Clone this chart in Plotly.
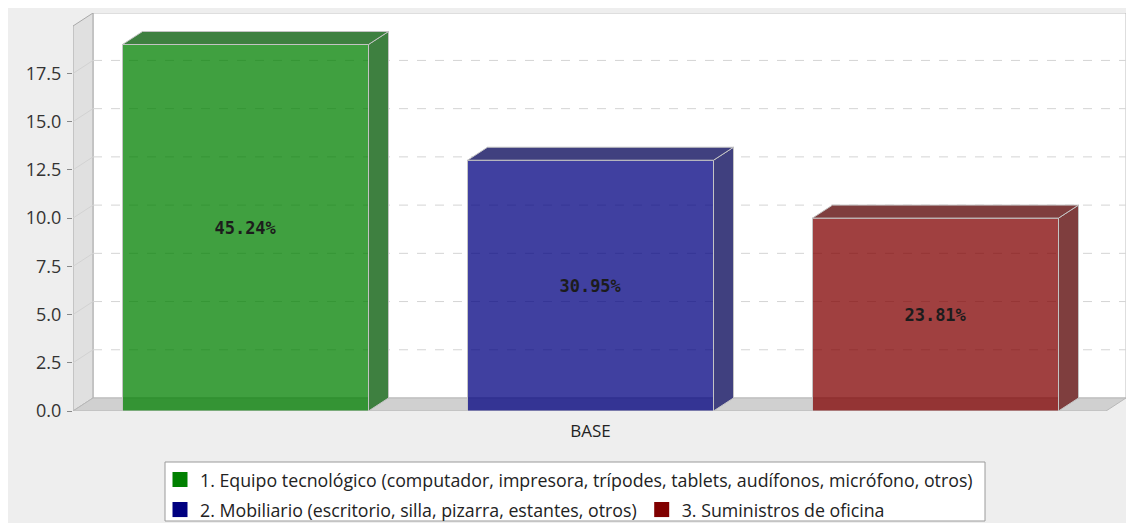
import plotly.graph_objects as go

# ---- data ----
categories = [
    "1. Equipo tecnológico (computador, impresora, trípodes, tablets, audífonos, micrófono, otros)",
    "2. Mobiliario (escritorio, silla, pizarra, estantes, otros)",
    "3. Suministros de oficina",
]
values = [19, 13, 10]
percent_labels = ["45.24%", "30.95%", "23.81%"]
x_tick_labels = ["BASE"]
y_tick_values = [0, 2.5, 5, 7.5, 10, 12.5, 15, 17.5]
y_tick_labels = ["0.0", "2.5", "5.0", "7.5", "10.0", "12.5", "15.0", "17.5"]

# ---- style ----
legend_colors = ["#008000", "#000080", "#800000"]
front_colors = ["rgba(0,128,0,0.75)", "rgba(0,0,128,0.75)", "rgba(128,0,0,0.75)"]
side_colors = ["#3e8040", "#40407f", "#7f3e3e"]
outline = "#c4c4c4"

W, H = 1118, 515
ML, MR, MT, MB = 65, 0, 5, 112
plot_w = W - ML - MR
plot_h = H - MT - MB
PX_X = 345.0          # pixels per x unit
PX_Y = 19.29          # pixels per y unit
DX = 20 / PX_X        # 3D depth offset (x units)
DY = 13 / PX_Y        # 3D depth offset (y units)
x0 = -0.5
x1 = x0 + plot_w / PX_X
y1 = plot_h / PX_Y
front_right = x1 - DX
front_top = y1 - DY
bar_w = 246 / PX_X
positions = list(range(len(values)))


def px_to_paper_x(px):
    return (px - 73) / plot_w


def px_to_paper_y(py):
    return (411 - py) / plot_h


fig = go.Figure()

shapes = []
# back wall
shapes.append(dict(type="rect", xref="x", yref="y", x0=x0 + DX, x1=x1, y0=DY, y1=y1,
                   fillcolor="white", line=dict(color="#bdbdbd", width=1), layer="below"))
# left wall
shapes.append(dict(type="path", xref="x", yref="y",
                   path=f"M{x0},0 L{x0},{front_top} L{x0+DX},{y1} L{x0+DX},{DY} Z",
                   fillcolor="#e0e0e0", line=dict(color="#a8a8a8", width=1), layer="below"))
# floor
shapes.append(dict(type="path", xref="x", yref="y",
                   path=f"M{x0},0 L{x0+DX},{DY} L{x1},{DY} L{front_right},0 Z",
                   fillcolor="#d0d0d0", line=dict(color="#b8b8b8", width=1), layer="below"))
# gridlines on the back wall and faint diagonals on the left wall
for t in y_tick_values[1:]:
    shapes.append(dict(type="line", xref="x", yref="y", x0=x0 + DX, x1=x1, y0=t + DY, y1=t + DY,
                       line=dict(color="#d4d4d4", width=1, dash="dash"), layer="below"))
    shapes.append(dict(type="line", xref="x", yref="y", x0=x0, x1=x0 + DX, y0=t, y1=t + DY,
                       line=dict(color="#d2d2d2", width=1), layer="below"))
# legend box
shapes.append(dict(type="rect", xref="paper", yref="paper",
                   x0=px_to_paper_x(165), x1=px_to_paper_x(985),
                   y0=px_to_paper_y(521), y1=px_to_paper_y(462),
                   fillcolor="white", line=dict(color="#9a9a9a", width=1), layer="below"))

# 3D side and top faces
for i, v in enumerate(values):
    xl = positions[i] - bar_w / 2
    xr = positions[i] + bar_w / 2
    fig.add_trace(go.Scatter(
        x=[xr, xr + DX, xr + DX, xr, xr], y=[0, DY, v + DY, v, 0],
        fill="toself", fillcolor=side_colors[i], mode="lines",
        line=dict(color=outline, width=1), showlegend=False, hoverinfo="skip"))
    fig.add_trace(go.Scatter(
        x=[xl, xl + DX, xr + DX, xr, xl], y=[v, v + DY, v + DY, v, v],
        fill="toself", fillcolor=side_colors[i], mode="lines",
        line=dict(color=outline, width=1), showlegend=False, hoverinfo="skip"))

# front faces
for i, v in enumerate(values):
    fig.add_trace(go.Bar(
        x=[positions[i]], y=[v], width=bar_w,
        marker=dict(color=front_colors[i], line=dict(color=outline, width=1)),
        text=[percent_labels[i]], textposition="inside", insidetextanchor="middle",
        textangle=0, constraintext="none",
        textfont=dict(family="DejaVu Sans Mono", size=17, color="#1c1c1c", weight="bold"),
        showlegend=False, hoverinfo="skip"))

# legend entries (row 1 -> legend, row 2 -> legend2)
for i, name in enumerate(categories):
    fig.add_trace(go.Scatter(
        x=[None], y=[None], name=name, mode="markers",
        marker=dict(symbol="square", size=15, color=legend_colors[i]),
        legend="legend" if i == 0 else "legend2"))

legend_common = dict(orientation="h", xanchor="left", yanchor="middle",
                     bgcolor="rgba(0,0,0,0)", borderwidth=0,
                     font=dict(family="Open Sans", size=17.8, color="#222222"))

fig.update_layout(
    width=W, height=H, margin=dict(l=ML, r=MR, t=MT, b=MB, autoexpand=False),
    paper_bgcolor="#eeeeee", plot_bgcolor="#eeeeee",
    barmode="overlay", shapes=shapes,
    font=dict(family="Open Sans", size=17, color="#333333"),
    xaxis=dict(range=[x0, x1], showgrid=False, zeroline=False, showline=False,
               tickvals=[(positions[0] + positions[-1]) / 2], ticktext=x_tick_labels,
               ticks="", ticklabelstandoff=8, tickfont=dict(size=17, color="#222222")),
    yaxis=dict(range=[0, y1], showgrid=False, zeroline=False, showline=False,
               tickvals=y_tick_values, ticktext=y_tick_labels, ticks="outside", ticklen=5,
               tickcolor="#888888", ticklabelstandoff=2, tickfont=dict(size=18, color="#333333")),
    legend=dict(x=px_to_paper_x(160), y=px_to_paper_y(480), **legend_common),
    legend2=dict(x=px_to_paper_x(160), y=px_to_paper_y(510), **legend_common),
)

fig.write_html("out.html")
